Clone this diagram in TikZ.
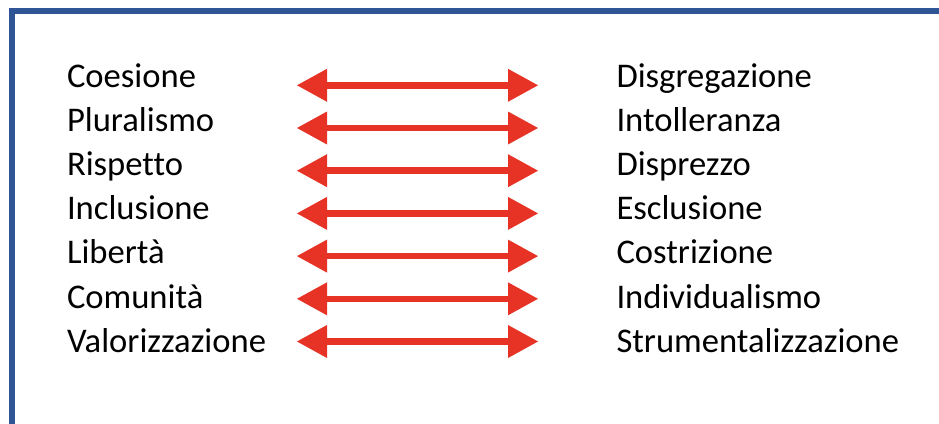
\documentclass[tikz,border=0pt]{standalone}
\usepackage{fontspec}
\setmainfont{Carlito}[Ligatures=CommonOff]
\usetikzlibrary{arrows.meta}
\definecolor{frameblue}{HTML}{2F5597}
\definecolor{arrowred}{HTML}{E63325}
\tikzset{
  term/.style={inner sep=0pt, outer sep=0pt, text=black, font=\fontsize{34.6}{40}\selectfont},
  leftterm/.style={term, anchor=base west},
  rightterm/.style={term, anchor=base west},
  opposite/.style={draw=arrowred, line width=6.6pt,
    {Triangle[length=30pt,width=33pt,line width=0pt]}-{Triangle[length=30pt,width=33pt,line width=0pt]}},
  frame/.style={draw=frameblue, line width=6pt, line join=miter}
}
\begin{document}
\begin{tikzpicture}[x=1pt,y=-1pt]
\useasboundingbox (0,0) rectangle (939,423);
\coordinate (fbot) at (11.5,430);
\coordinate (fcorner) at (11.5,10.5);
\coordinate (fright) at (945,10.5);
\draw[frame] (fbot) -- (fcorner) -- (fright);
\foreach \i/\l/\r in {0/Coesione/Disgregazione,1/Pluralismo/Intolleranza,2/Rispetto/Disprezzo,3/Inclusione/Esclusione,4/Libertà/Costrizione,5/Comunità/Individualismo,6/Valorizzazione/Strumentalizzazione}{
  \node[leftterm] (L\i) at (67,87.5+44.1*\i) {\l};
  \node[rightterm] (R\i) at (616.5,87.5+44.1*\i) {\r};
  \coordinate (AL\i) at (297,85.3+42.7*\i);
  \coordinate (AR\i) at (538,85.3+42.7*\i);
  \draw[opposite] (AL\i) -- (AR\i);
}
\end{tikzpicture}
\end{document}
